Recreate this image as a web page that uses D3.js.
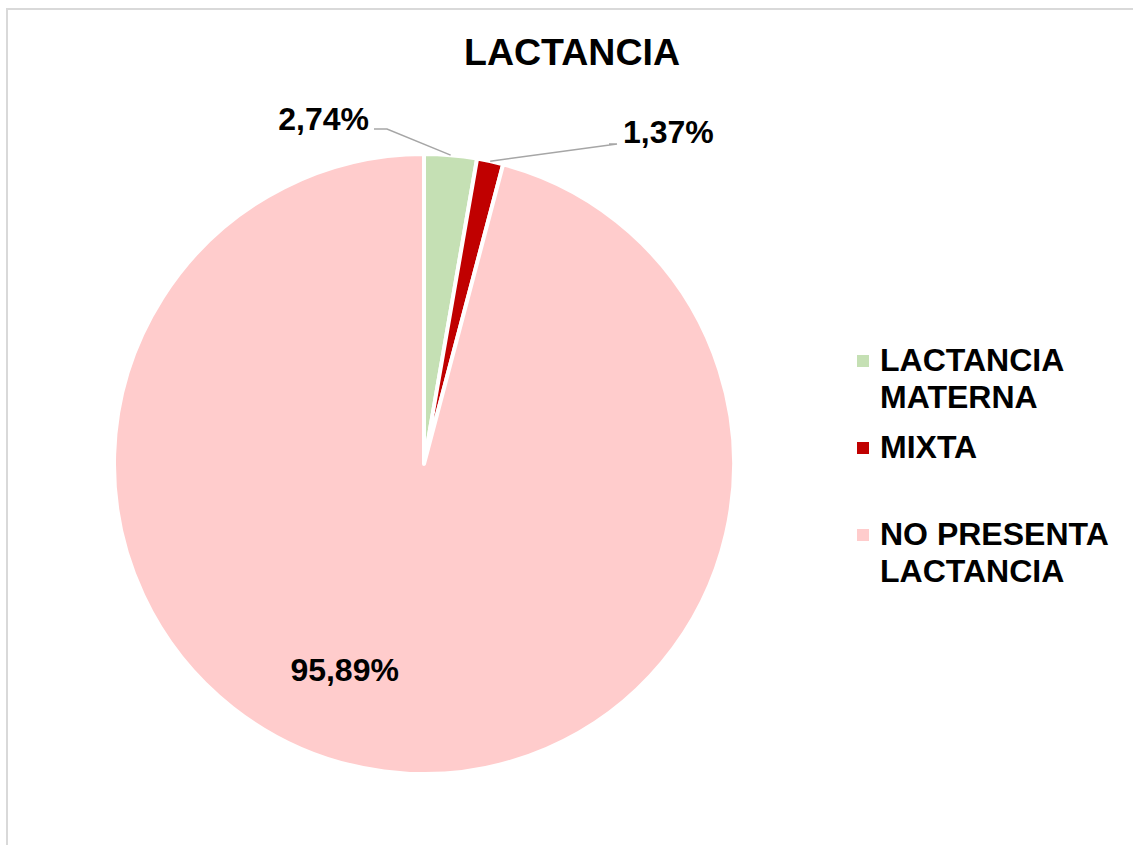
<!DOCTYPE html>
<html>
<head>
<meta charset="utf-8">
<script src="https://cdn.jsdelivr.net/npm/d3@7"></script>
<style>
  body { margin: 0; background: #fff; }
  svg text { font-family: "Liberation Sans", Arial, sans-serif; font-weight: bold; fill: #000; }
</style>
</head>
<body>
<div id="chart"></div>
<script>
// data
var categories = ["LACTANCIA MATERNA", "MIXTA", "NO PRESENTA LACTANCIA"]
var legendLines = [["LACTANCIA", "MATERNA"], ["MIXTA"], ["NO PRESENTA", "LACTANCIA"]]
var counts = [2, 1, 70]
var labels = ["2,74%", "1,37%", "95,89%"]
var colors = ["#c5e0b4", "#c00000", "#ffcccc"]

var width = 1133, height = 845
var cx = 424, cy = 464, r = 310

var svg = d3.select("#chart").append("svg")
    .attr("width", width)
    .attr("height", height)

// chart frame
svg.append("rect")
    .attr("x", 7).attr("y", 9)
    .attr("width", width + 20).attr("height", height + 20)
    .attr("fill", "none")
    .attr("stroke", "#d9d9d9")
    .attr("stroke-width", 2)

svg.append("text")
    .attr("x", 572).attr("y", 65)
    .attr("text-anchor", "middle")
    .style("font-size", "37.5px")
    .text("LACTANCIA")

var data = categories.map((c, i) => ({ name: c, value: counts[i], label: labels[i], color: colors[i] }))

var pie = d3.pie().sort(null).value(d => d.value)
var arcs = pie(data)
var arc = d3.arc().innerRadius(0).outerRadius(r)
var edge = d3.arc().innerRadius(r).outerRadius(r)

var g = svg.append("g").attr("transform", "translate(" + cx + "," + cy + ")")

g.selectAll("path.slice")
  .data(arcs)
  .enter().append("path")
    .attr("class", "slice")
    .attr("d", arc)
    .attr("fill", d => d.data.color)
    .attr("stroke", "#fff")
    .attr("stroke-width", 4)
    .attr("stroke-linejoin", "round")

// outside labels with leader lines for the two small slices
var outside = [
  { i: 0, text: [-55, -334], anchor: "end", elbow: [-37, -335] },
  { i: 1, text: [199, -321], anchor: "start", elbow: [193, -320] }
]
outside.forEach(o => {
  var p = edge.centroid(arcs[o.i])
  var knee = [o.elbow[0], o.elbow[1]]
  var tail = o.anchor === "end" ? [knee[0] - 13, knee[1]] : [knee[0] - 8, knee[1]]
  g.append("polyline")
      .attr("points", [p, knee, tail].map(q => q.join(",")).join(" "))
      .attr("fill", "none")
      .attr("stroke", "#a6a6a6")
      .attr("stroke-width", 1.5)
  g.append("text")
      .attr("x", o.text[0]).attr("y", o.text[1])
      .attr("text-anchor", o.anchor)
      .style("font-size", "32px")
      .text(arcs[o.i].data.label)
})

// inside label for big slice
var big = arcs[2]
var ang = (big.startAngle + big.endAngle) / 2 + 0.24
var rr = 220
g.append("text")
    .attr("x", Math.sin(ang) * rr)
    .attr("y", -Math.cos(ang) * rr + 12)
    .attr("text-anchor", "middle")
    .style("font-size", "32px")
    .text(big.data.label)

// legend
var legendTop = [371, 458, 545]
var leg = svg.append("g")
data.forEach((d, i) => {
  leg.append("rect")
      .attr("x", 857).attr("y", legendTop[i] - 16)
      .attr("width", 12).attr("height", 12)
      .attr("fill", d.color)
  legendLines[i].forEach((line, j) => {
    leg.append("text")
        .attr("x", 880).attr("y", legendTop[i] + j * 36.5)
        .style("font-size", "32px")
        .text(line)
  })
})
</script>
</body>
</html>
